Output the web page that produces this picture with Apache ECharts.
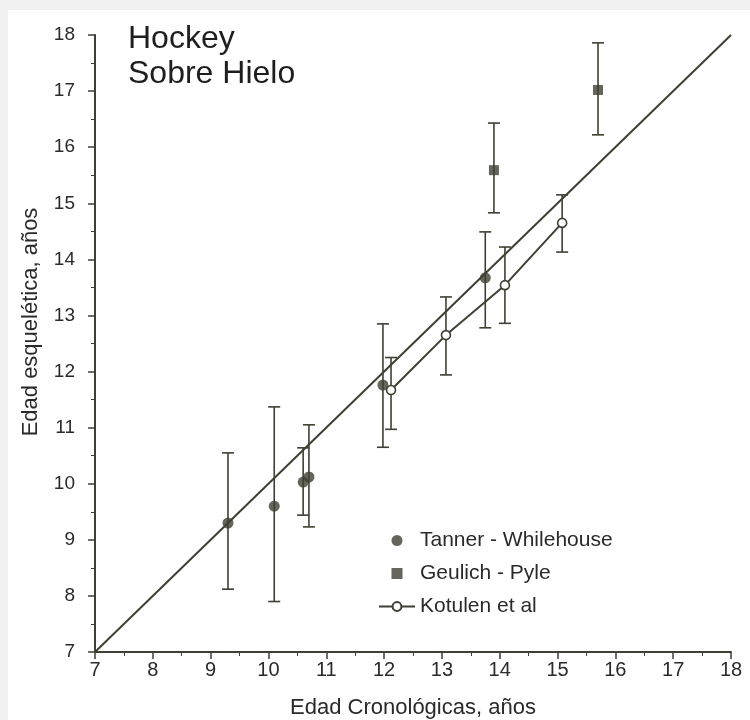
<!DOCTYPE html>
<html>
<head>
<meta charset="utf-8">
<script src="https://cdn.jsdelivr.net/npm/echarts@6/dist/echarts.min.js"></script>
<style>
  html, body { margin: 0; padding: 0; background: #f1f1f1; }
  #chart { width: 750px; height: 720px; }
</style>
</head>
<body>
<div id="chart"></div>
<script>
// Tanner - Whilehouse (puntos llenos)
const tannerX = [9.3, 10.1, 10.6, 10.7, 11.98, 13.75];
const tannerY = [9.3, 9.6, 10.03, 10.12, 11.76, 13.67];
const tannerLo = [8.12, 7.9, 9.44, 9.23, 10.65, 12.78];
const tannerHi = [10.55, 11.37, 10.64, 11.05, 12.85, 14.49];
// Geulich - Pyle (cuadrados)
const geulichX = [13.9, 15.7];
const geulichY = [15.59, 17.02];
const geulichLo = [14.83, 16.22];
const geulichHi = [16.43, 17.86];
// Kotulen et al (círculos abiertos con línea)
const kotulenX = [12.12, 13.07, 14.09, 15.08];
const kotulenY = [11.67, 12.65, 13.54, 14.65];
const kotulenLo = [10.97, 11.94, 12.86, 14.13];
const kotulenHi = [12.25, 13.33, 14.22, 15.15];
// línea de identidad
const identity = [[7, 7], [18, 18]];

const ink = '#3f3f33';
const font = 'Liberation Sans';

const pairs = (xs, ys) => xs.map((x, i) => [x, ys[i]]);
const bars = (xs, lo, hi) => xs.map((x, i) => [x, lo[i], hi[i]]);

// barra de error vertical con topes
function errorBar(params, api) {
    const top = api.coord([api.value(0), api.value(2)]);
    const bot = api.coord([api.value(0), api.value(1)]);
    const w = 6;
    const style = { stroke: ink, lineWidth: 1.6 };
    return {
        type: 'group',
        children: [
            { type: 'line', shape: { x1: top[0], y1: top[1], x2: bot[0], y2: bot[1] }, style: style },
            { type: 'line', shape: { x1: top[0] - w, y1: top[1], x2: top[0] + w, y2: top[1] }, style: style },
            { type: 'line', shape: { x1: bot[0] - w, y1: bot[1], x2: bot[0] + w, y2: bot[1] }, style: style }
        ]
    };
}

const chart = echarts.init(document.getElementById('chart'));
chart.setOption({
    backgroundColor: '#f1f1f1',
    animation: false,
    textStyle: { fontFamily: font },
    graphic: [
        { type: 'rect', z: -10, silent: true, shape: { x: 8, y: 10, width: 742, height: 710 }, style: { fill: '#ffffff' } },
        { type: 'text', left: 128, top: 22, style: { text: 'Hockey\nSobre Hielo', font: '32px "Liberation Sans"', lineHeight: 35, fill: '#1e1e1e' } },
        { type: 'text', x: 20, y: 322, rotation: Math.PI / 2, style: { text: 'Edad esquelética, años', font: '22px "Liberation Sans"', fill: '#2a2a2a', align: 'center', verticalAlign: 'top' } }
    ],
    grid: { left: 95, right: 19, top: 35, bottom: 68, outerBoundsMode: 'none' },
    legend: {
        data: ['Tanner - Whilehouse', 'Geulich - Pyle', 'Kotulen et al'],
        orient: 'vertical',
        left: 373,
        top: 525,
        itemWidth: 36,
        itemHeight: 11,
        itemGap: 12,
        textStyle: { fontSize: 21, color: '#2a2a2a', fontFamily: font }
    },
    xAxis: {
        type: 'value', min: 7, max: 18, interval: 1,
        name: 'Edad Cronológicas, años', nameLocation: 'middle', nameGap: 45,
        nameTextStyle: { fontSize: 22, color: '#2a2a2a' },
        axisLine: { lineStyle: { color: ink, width: 2 } },
        axisTick: { length: 7, lineStyle: { color: ink, width: 1.5 } },
        minorTick: { show: true, splitNumber: 2, length: 4, lineStyle: { color: ink } },
        axisLabel: { fontSize: 20, color: '#2a2a2a', margin: 8 },
        splitLine: { show: false }
    },
    yAxis: {
        type: 'value', min: 7, max: 18, interval: 1,
        axisLine: { show: true, lineStyle: { color: ink, width: 2 } },
        axisTick: { show: true, length: 7, lineStyle: { color: ink, width: 1.5 } },
        minorTick: { show: true, splitNumber: 2, length: 4, lineStyle: { color: ink } },
        axisLabel: { fontSize: 19, color: '#2a2a2a', margin: 20 },
        splitLine: { show: false }
    },
    series: [
        {
            name: 'identidad', type: 'line', data: identity, showSymbol: false,
            lineStyle: { color: ink, width: 2 }, z: 1
        },
        { type: 'custom', renderItem: errorBar, data: bars(tannerX, tannerLo, tannerHi), z: 2 },
        { type: 'custom', renderItem: errorBar, data: bars(geulichX, geulichLo, geulichHi), z: 2 },
        { type: 'custom', renderItem: errorBar, data: bars(kotulenX, kotulenLo, kotulenHi), z: 2 },
        {
            name: 'Tanner - Whilehouse', type: 'scatter', data: pairs(tannerX, tannerY),
            symbol: 'circle', symbolSize: 11, itemStyle: { color: ink }, z: 4
        },
        {
            name: 'Geulich - Pyle', type: 'scatter', data: pairs(geulichX, geulichY),
            symbol: 'path://M0 0H10V10H0Z', symbolKeepAspect: true, symbolSize: 10,
            itemStyle: { color: ink }, z: 4
        },
        {
            name: 'Kotulen et al', type: 'line', data: pairs(kotulenX, kotulenY),
            symbol: 'circle', symbolSize: 9, showAllSymbol: true,
            lineStyle: { color: ink, width: 2 },
            itemStyle: { color: '#ffffff', borderColor: ink, borderWidth: 1.6 }, z: 5
        }
    ]
});
</script>
</body>
</html>
